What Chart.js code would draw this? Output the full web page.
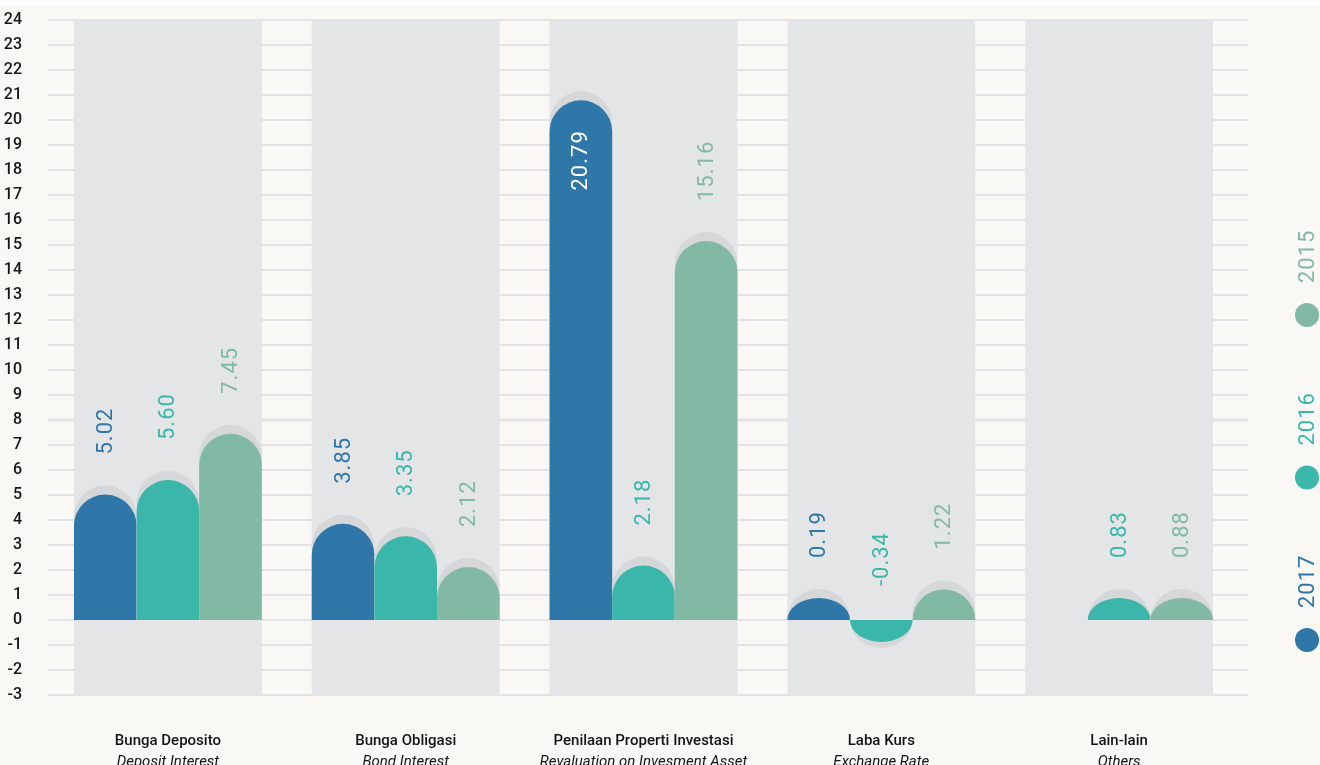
<!DOCTYPE html>
<html>
<head>
<meta charset="utf-8">
<script src="https://cdn.jsdelivr.net/npm/chart.js@4.4.1/dist/chart.umd.min.js"></script>
<style>
  html, body { margin: 0; padding: 0; background: #f9f8f5; }
  #box { width: 1320px; height: 765px; position: relative; }
</style>
</head>
<body>
<div id="box"><canvas id="incomeChart"></canvas></div>
<script>
const categories = ["Bunga Deposito", "Bunga Obligasi", "Penilaan Properti Investasi", "Laba Kurs", "Lain-lain"];
const categoriesEn = ["Deposit Interest", "Bond Interest", "Revaluation on Invesment Asset", "Exchange Rate", "Others"];
const years = ["2017", "2016", "2015"];
const values2017 = [5.02, 3.85, 20.79, 0.19, null];
const values2016 = [5.60, 3.35, 2.18, -0.34, 0.83];
const values2015 = [7.45, 2.12, 15.16, 1.22, 0.88];
const yMin = -3;
const yMax = 24;

const colors = ["#3077a9", "#3ab6ab", "#82b9a5"];
const panelColor = "#e4e5e7";
const shadowColor = "#d6d7d9";
const gridColor = "#e3e2e4";
const labelFont = "400 22px Roboto";

// bar body with a rounded cap, tiny values still get a small dome
const domePath = (ctx, x, w, base, top, minCap) => {
    const half = w / 2;
    const up = top <= base;
    const h = Math.max(Math.abs(base - top), minCap);
    const r = Math.min(half, h);
    const dir = up ? -1 : 1;
    const tip = base + dir * h;
    const shoulder = tip - dir * r;
    ctx.beginPath();
    ctx.moveTo(x - half, base);
    ctx.lineTo(x - half, shoulder);
    if (up)
        ctx.ellipse(x, shoulder, half, r, 0, Math.PI, 2 * Math.PI, false);
    else
        ctx.ellipse(x, shoulder, half, r, 0, Math.PI, 0, true);
    ctx.lineTo(x + half, base);
    ctx.closePath();
    return tip;
};

const backdrop = {
    id: "backdrop",
    beforeDraw(chart) {
        const { ctx, chartArea: area, scales } = chart;
        const y = scales.y, x = scales.x;
        ctx.save();
        ctx.fillStyle = "#f9f8f5";
        ctx.fillRect(0, 0, chart.width, chart.height);
        ctx.fillStyle = "#ffffff";
        ctx.fillRect(0, 0, chart.width, 5);

        // horizontal grid
        y.ticks.forEach(t => {
            const py = Math.round(y.getPixelForValue(t.value));
            ctx.fillStyle = gridColor;
            const lw = t.value === 8 ? 3 : 2;
            ctx.fillRect(area.left - 1, py - lw / 2, area.right - area.left + 11, lw);
        });

        // category panels
        const meta = chart.getDatasetMeta(0);
        const top = y.getPixelForValue(yMax);
        const bottom = y.getPixelForValue(yMin);
        meta.data.forEach((bar, i) => {
            const cx = x.getPixelForValue(i);
            const w = bar.width * 3;
            ctx.fillStyle = panelColor;
            ctx.fillRect(cx - w / 2, top - 1, w, bottom - top + 2);
        });
        ctx.restore();
    },
    beforeDatasetsDraw(chart) {
        const { ctx, chartArea: area } = chart;
        ctx.save();
        const minCap = 22;
        chart.data.datasets.forEach((ds, di) => {
            const meta = chart.getDatasetMeta(di);
            meta.data.forEach((bar, i) => {
                const v = ds.data[i];
                if (v === null || v === undefined) return;
                const p = bar.getProps(["x", "y", "base", "width"], true);
                const up = v >= 0;
                // shadow: same dome, pushed out a little
                ctx.fillStyle = shadowColor;
                const sh = up ? 9 : 6;
                const h = Math.max(Math.abs(p.base - p.y), minCap) + sh;
                domePath(ctx, p.x, p.width, p.base, p.base + (up ? -h : h), minCap + sh);
                ctx.fill();

                ctx.fillStyle = colors[di];
                const tip = domePath(ctx, p.x, p.width, p.base, p.y, minCap);
                ctx.fill();

                // value label
                const txt = v.toFixed(2);
                ctx.font = labelFont;
                ctx.letterSpacing = "1px";
                const tw = ctx.measureText(txt).width;
                ctx.save();
                ctx.textBaseline = "middle";
                if (up && tip - 40 - tw < area.top + 30) {
                    ctx.translate(p.x, tip + 30);
                    ctx.rotate(-Math.PI / 2);
                    ctx.textAlign = "right";
                    ctx.fillStyle = "#ffffff";
                } else {
                    const anchor = up ? tip - 40 : p.base - 34;
                    ctx.translate(p.x, anchor);
                    ctx.rotate(-Math.PI / 2);
                    ctx.textAlign = "left";
                    ctx.fillStyle = colors[di];
                }
                ctx.fillText(txt, 0, 1);
                ctx.restore();
                ctx.letterSpacing = "0px";
            });
        });
        ctx.restore();
        return false;
    },
    afterDraw(chart) {
        const { ctx, chartArea: area, scales } = chart;
        ctx.save();
        ctx.textAlign = "center";
        ctx.textBaseline = "alphabetic";
        ctx.fillStyle = "#141414";
        categories.forEach((c, i) => {
            const cx = scales.x.getPixelForValue(i);
            ctx.font = "500 15px Roboto";
            ctx.fillText(c, cx, area.bottom + 50);
            ctx.font = "italic 400 15px Roboto";
            ctx.fillText(categoriesEn[i], cx, area.bottom + 71);
        });

        // vertical legend on the right
        const lx = 1307;
        years.forEach((yr, i) => {
            const cy = area.bottom - 55 - i * 162.5;
            ctx.fillStyle = colors[i];
            ctx.beginPath();
            ctx.arc(lx, cy, 12, 0, 2 * Math.PI);
            ctx.fill();
            ctx.save();
            ctx.translate(lx, cy - 32);
            ctx.rotate(-Math.PI / 2);
            ctx.font = labelFont;
            ctx.letterSpacing = "1px";
            ctx.textAlign = "left";
            ctx.textBaseline = "middle";
            ctx.fillText(yr, 0, 1);
            ctx.restore();
        });
        ctx.restore();
    }
};

new Chart(document.getElementById("incomeChart"), {
    type: "bar",
    data: {
        labels: categories,
        datasets: [
            { label: years[0], data: values2017, backgroundColor: colors[0] },
            { label: years[1], data: values2016, backgroundColor: colors[1] },
            { label: years[2], data: values2015, backgroundColor: colors[2] },
        ]
    },
    options: {
        responsive: true,
        maintainAspectRatio: false,
        animation: false,
        layout: { padding: { top: 20, bottom: 70, left: 0, right: 82 } },
        datasets: { bar: { barPercentage: 1, categoryPercentage: 0.79 } },
        plugins: { legend: { display: false }, tooltip: { enabled: false } },
        scales: {
            x: { display: false },
            y: {
                min: yMin,
                max: yMax,
                afterFit: s => {
                    s.width = 49;
                    // tick padding is horizontal room only
                    s.paddingTop = 10;
                    s.paddingBottom = 10;
                },
                border: { display: false },
                grid: { display: false, drawTicks: false },
                ticks: {
                    stepSize: 1,
                    padding: 27,
                    color: "#151515",
                    font: { family: "Roboto", size: 16, weight: "500" }
                }
            }
        }
    },
    plugins: [backdrop]
});
</script>
</body>
</html>
